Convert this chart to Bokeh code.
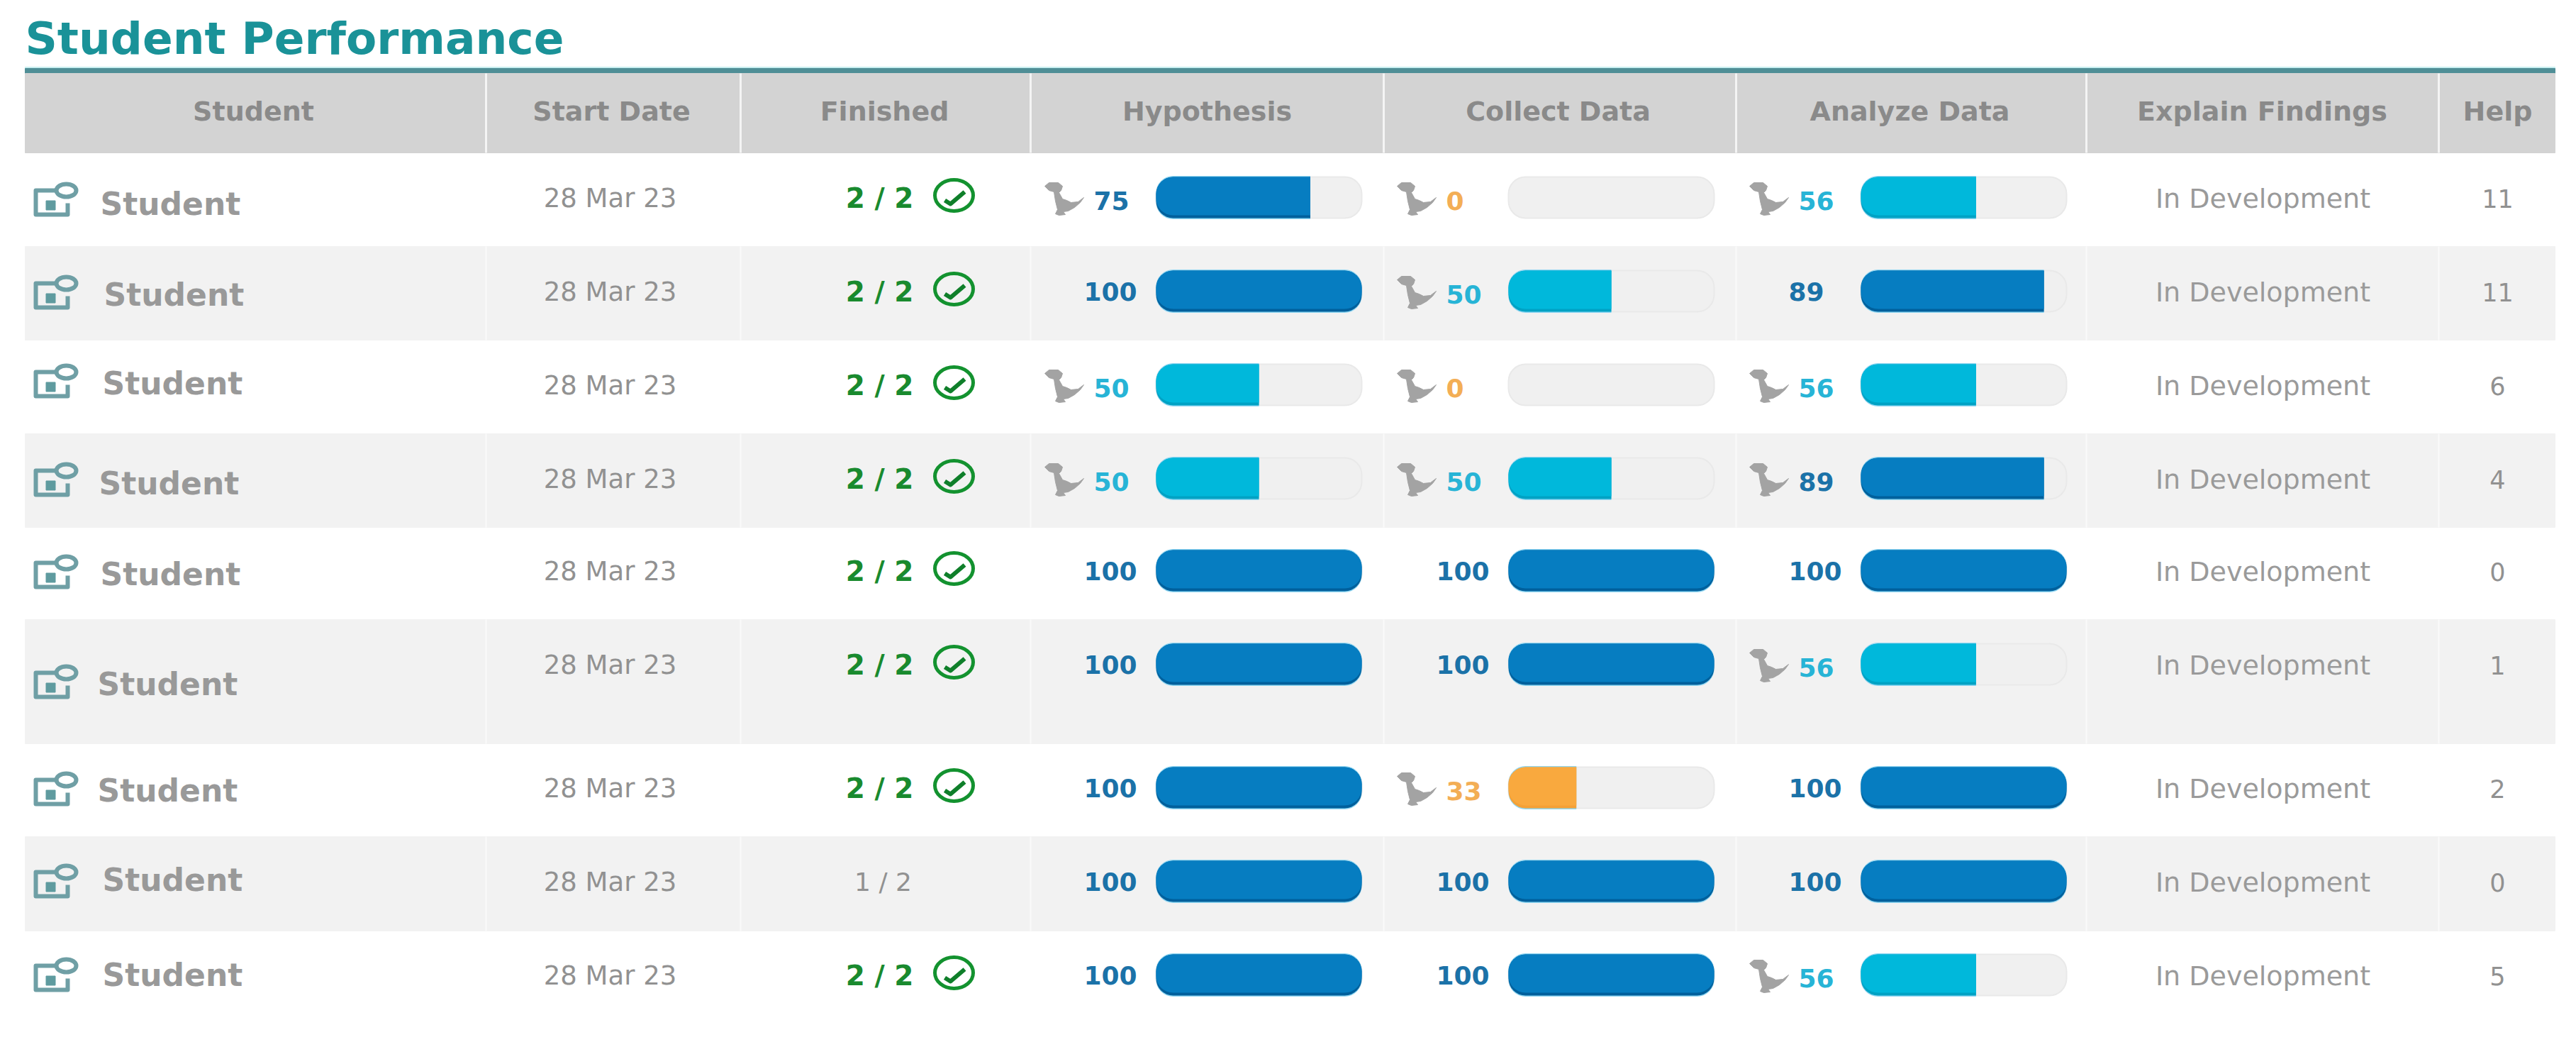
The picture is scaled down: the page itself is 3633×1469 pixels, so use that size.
from bokeh.core.properties import value as fixed
from bokeh.embed import file_html
from bokeh.models import ColumnDataSource, Range1d
from bokeh.plotting import figure
from bokeh.resources import INLINE

TITLE = "Student Performance"
headers = ["Student", "Start Date", "Finished", "Hypothesis", "Collect Data",
           "Analyze Data", "Explain Findings", "Help"]

students = ["Student"] * 9
start_dates = ["28 Mar 23"] * 9
finished = ["2 / 2", "2 / 2", "2 / 2", "2 / 2", "2 / 2", "2 / 2", "2 / 2", "1 / 2", "2 / 2"]
hypothesis = [75, 100, 50, 50, 100, 100, 100, 100, 100]
collect_data = [0, 50, 0, 50, 100, 100, 33, 100, 100]
analyze_data = [56, 89, 56, 89, 100, 56, 100, 100, 56]
findings = ["In Development"] * 9
help_counts = [11, 11, 6, 4, 0, 1, 2, 0, 5]

# layout, in pixels of the reference picture
HEADER_TOP, HEADER_BOTTOM = 103, 215
TABLE_LEFT, TABLE_RIGHT = 35, 3603
col_edges = [685, 1044, 1453, 1951, 2448, 2942, 3439]
header_x = [357, 862, 1247, 1702, 2197, 2693, 3190, 3522]
row_edges = [215, 347, 479, 611, 743, 873, 1048, 1179, 1312, 1444]
row_y = [278, 410, 542, 674, 804, 936, 1110, 1242, 1374]
name_x = [141, 146, 144, 139, 141, 137, 137, 144, 144]
name_y = [287, 415, 540, 681, 809, 964, 1114, 1240, 1374]
icon_y = [285, 416, 541, 680, 810, 965, 1116, 1246, 1378]
bar_left = {"h": 1630, "c": 2127, "a": 2624}
BAR_W, BAR_H, RADIUS = 290, 58, 24

FONT = fixed("DejaVu Sans")
# (main, bottom lip) of each bar colour
BLUES = ("#067dc1", "#00609c")
CYANS = ("#00b8db", "#00a2c4")
ORANGES = ("#f9a93e", "#f4a136")

# dinosaur outline, pixels from the top left of the icon
dino_x = [0, 6, 19, 25, 23, 20, 25, 31, 37, 47, 55, 50, 42, 33, 26, 29, 20, 15, 18, 15, 13, 6]
dino_y = [5, 0, 0, 5, 11, 14, 23, 25, 28, 27, 21, 28, 35, 40, 41, 45, 46, 44, 38, 26, 13, 11]
check_x = [-13, -5, 15]
check_y = [7, 12, -5]

p = figure(width=3617, height=1453, output_backend="svg", toolbar_location=None,
           x_range=Range1d(0, 3617), y_range=Range1d(1453, 0),
           x_axis_location=None, y_axis_location=None, min_border=0)
p.grid.visible = False
p.outline_line_color = None


def bar_colors(value):
    if value >= 75:
        return BLUES
    if value >= 50:
        return CYANS
    return ORANGES


def text_color(value):
    if value >= 75:
        return "#1b72a8"
    if value >= 50:
        return "#27b4d6"
    return "#f3ae55"


# title, rule and header band
p.text([TABLE_LEFT], [54], text=[TITLE], text_font=FONT, text_font_style="bold", text_font_size="63px",
       text_color="#1a9298", text_baseline="middle")
p.quad(left=TABLE_LEFT, right=TABLE_RIGHT, top=94, bottom=106, color="#c8eef0")
p.quad(left=TABLE_LEFT, right=TABLE_RIGHT, top=96, bottom=103, color="#4f8e96")
p.quad(left=TABLE_LEFT, right=TABLE_RIGHT, top=HEADER_TOP, bottom=HEADER_BOTTOM, color="#d3d3d3")

# striped rows
gray = [i for i in range(len(students)) if i % 2 == 1]
p.quad(left=TABLE_LEFT, right=TABLE_RIGHT, top=[row_edges[i] for i in gray],
       bottom=[row_edges[i + 1] for i in gray], color="#f2f2f2")

# column separators
p.segment(x0=col_edges, x1=col_edges, y0=HEADER_TOP, y1=HEADER_BOTTOM, line_color="#f4f4f4", line_width=3)
for i in gray:
    p.segment(x0=col_edges, x1=col_edges, y0=row_edges[i], y1=row_edges[i + 1],
              line_color="#fafafa", line_width=2)

p.text(header_x, [156] * len(headers), text=headers, text_font=FONT, text_font_style="bold",
       text_font_size="38px", text_color="#8a8a8a", text_align="center", text_baseline="middle")

# student icon
frame_x, frame_y = [], []
for y in icon_y:
    frame_x.append([78, 50, 50, 95, 95])
    frame_y.append([y - 17, y - 17, y + 17, y + 17, y + 1])
p.multi_line(frame_x, frame_y, line_color="#6f9fa5", line_width=6, line_join="round")
p.ellipse([93] * 9, [y - 17 for y in icon_y], width=28, height=18, fill_color=None,
          line_color="#6f9fa5", line_width=6)
p.scatter([71] * 9, [y + 4 for y in icon_y], size=13, marker="square", color="#5f9b9f")

# name and date columns
p.text(name_x, name_y, text=students, text_font=FONT, text_font_style="bold",
       text_font_size="44px", text_color="#999999", text_baseline="middle")
p.text([860] * 9, [y + 1 for y in row_y], text=start_dates, text_font=FONT,
       text_font_size="37px", text_color="#919191", text_align="center", text_baseline="middle")

# finished column
done = [i for i, f in enumerate(finished) if f == "2 / 2"]
partial = [i for i, f in enumerate(finished) if f != "2 / 2"]
p.text([1240] * len(done), [row_y[i] + 1 for i in done], text=[finished[i] for i in done],
       text_font=FONT, text_font_style="bold", text_font_size="39px", text_color="#198a2e",
       text_align="center", text_baseline="middle")
p.text([1245] * len(partial), [row_y[i] + 1 for i in partial], text=[finished[i] for i in partial],
       text_font=FONT, text_font_size="36px", text_color="#919191",
       text_align="center", text_baseline="middle")
p.ellipse([1345] * len(done), [row_y[i] - 3 for i in done], width=54, height=44, fill_color=None,
          line_color="#13922f", line_width=5)
p.multi_line([[1345 + dx for dx in check_x] for i in done],
             [[row_y[i] - 3 + dy for dy in check_y] for i in done],
             line_color="#0f7f2a", line_width=6, line_join="round")

# progress columns
tracks = {"left": [], "y": []}
full = {"left": [], "right": [], "y": [], "main": [], "lip": []}
part = {"left": [], "right": [], "y": [], "main": [], "lip": []}
labels = {"x": [], "y": [], "text": [], "color": []}
dino_xs, dino_ys = [], []
for key, values in (("h", hypothesis), ("c", collect_data), ("a", analyze_data)):
    left = bar_left[key]
    for i, value in enumerate(values):
        y = row_y[i]
        tracks["left"].append(left)
        tracks["y"].append(y)
        target = full if value == 100 else part
        if value > 0:
            main, lip = bar_colors(value)
            target["left"].append(left)
            target["right"].append(left + BAR_W * value / 100)
            target["y"].append(y)
            target["main"].append(main)
            target["lip"].append(lip)
        # the runner is missing on the finished bars and on one 89
        runner = value < 100 and not (key == "a" and i == 1)
        if runner:
            dino_xs.append([left - 157 + dx for dx in dino_x])
            dino_ys.append([y - 21 + dy for dy in dino_y])
        labels["x"].append(left - (88 if runner else 102))
        labels["y"].append(y + (4 if runner else 0))
        labels["text"].append(str(value))
        labels["color"].append(text_color(value))

p.hbar(y=tracks["y"], height=BAR_H, left=tracks["left"], right=[x + BAR_W for x in tracks["left"]],
       fill_color="#f0f0f0", line_color="#e9e9e9", line_width=2, border_radius=RADIUS)

for data, radius in ((full, RADIUS), (part, (RADIUS, 0, 0, RADIUS))):
    src = ColumnDataSource(dict(data, main_y=[y - 2 for y in data["y"]]))
    p.hbar(y="y", height=BAR_H + 3, left="left", right="right", source=src, fill_color="#8fd6f2",
           line_color=None, border_radius=radius)
    p.hbar(y="y", height=BAR_H, left="left", right="right", source=src, fill_color="lip",
           line_color=None, border_radius=radius)
    p.hbar(y="main_y", height=BAR_H - 4, left="left", right="right", source=src, fill_color="main",
           line_color=None, border_radius=radius)

p.patches(dino_xs, dino_ys, fill_color="#a3a3a3", line_color="#a3a3a3", line_width=1)
p.text("x", "y", text="text", source=ColumnDataSource(labels), text_font=FONT,
       text_font_style="bold", text_font_size="36px", text_color="color", text_baseline="middle")

# last two columns
p.text([3191] * 9, [y + 1 for y in row_y], text=findings, text_font=FONT,
       text_font_size="38px", text_color="#9a9a9a", text_align="center", text_baseline="middle")
p.text([3522] * 9, [y + 1 for y in row_y], text=[str(v) for v in help_counts], text_font=FONT,
       text_font_size="35px", text_color="#919191", text_align="center", text_baseline="middle")

open("out.html", "w").write(file_html(p, INLINE))
